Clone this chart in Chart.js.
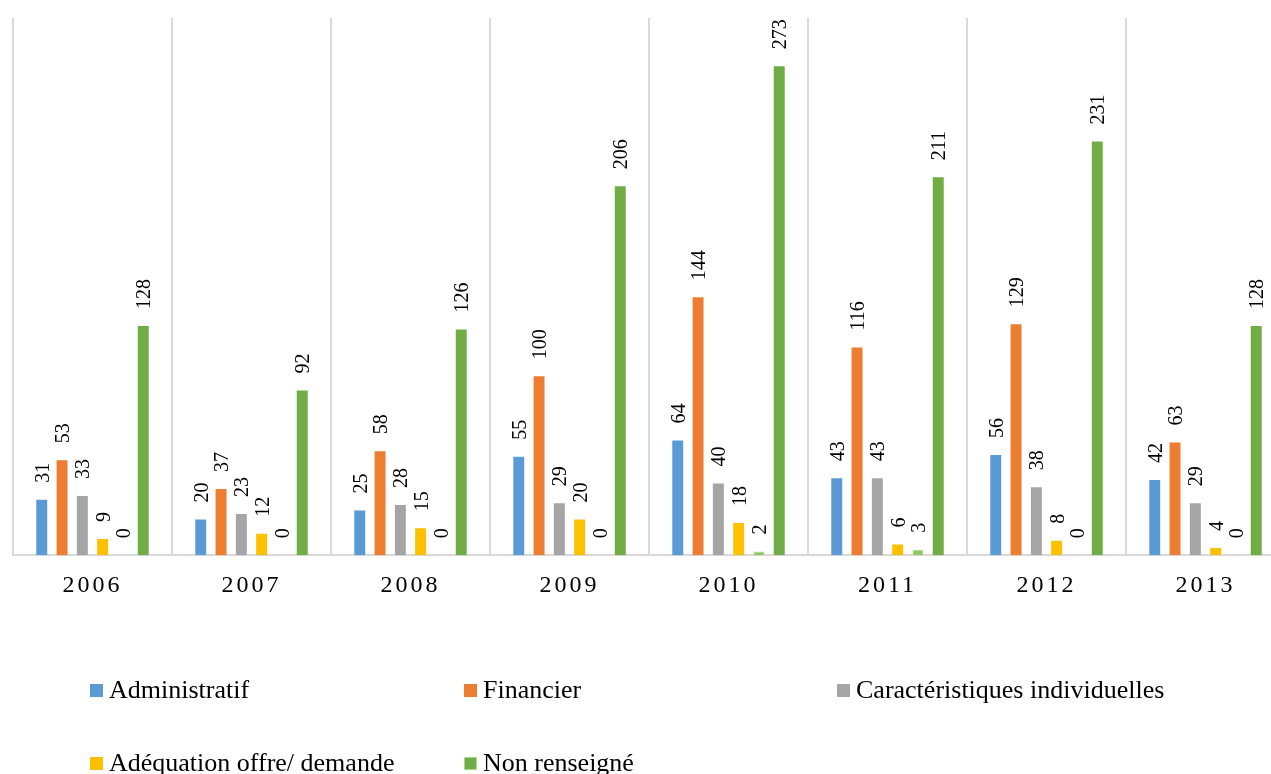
<!DOCTYPE html>
<html>
<head>
<meta charset="utf-8">
<script src="https://cdn.jsdelivr.net/npm/chart.js@4/dist/chart.umd.min.js"></script>
<style>
  body { margin: 0; overflow: hidden; background: #fff; width: 1271px; height: 774px; position: relative; }
  #wrap { position: absolute; left: 0; top: 0; width: 1300px; height: 774px; }
  .lgBox { position: absolute; width: 13px; height: 13px; box-sizing: border-box; }
  .lgText { position: absolute; font-family: "Liberation Serif", "Times New Roman", serif; font-size: 26px; line-height: 30px; color: #000; white-space: nowrap; }
</style>
</head>
<body>
<div id="wrap"><canvas id="myChart"></canvas></div>
<div id="legend"></div>
<script>
const years = ['2006', '2007', '2008', '2009', '2010', '2011', '2012', '2013'];
const administratif = [31, 20, 25, 55, 64, 43, 56, 42];
const financier = [53, 37, 58, 100, 144, 116, 129, 63];
const caracteristiques = [33, 23, 28, 29, 40, 43, 38, 29];
const adequation = [9, 12, 15, 20, 18, 6, 8, 4];
const autre = [0, 0, 0, 0, 2, 3, 0, 0];
const nonRenseigne = [128, 92, 126, 206, 273, 211, 231, 128];

const serif = '"Liberation Serif", "Times New Roman", serif';

function ds(label, data, color, border) {
    return {
        label: label,
        data: data,
        backgroundColor: color,
        borderColor: border || color,
        borderWidth: border ? 1 : 0,
        categoryPercentage: 0.766,
        barPercentage: 0.54
    };
}

// rotated value labels above each bar
const barLabels = {
    id: 'barLabels',
    afterDatasetsDraw(chart) {
        const ctx = chart.ctx;
        chart.data.datasets.forEach((d, i) => {
            const meta = chart.getDatasetMeta(i);
            meta.data.forEach((bar, j) => {
                ctx.save();
                ctx.letterSpacing = '0px';
                ctx.translate(bar.x, bar.y - 17);
                ctx.rotate(-Math.PI / 2);
                ctx.font = '20px ' + serif;
                ctx.fillStyle = '#000';
                ctx.textAlign = 'left';
                ctx.textBaseline = 'alphabetic';
                ctx.fillText(String(d.data[j]), 0, 7);
                ctx.restore();
            });
        });
    }
};

// the year labels are spaced out a little
const spacing = {
    id: 'spacing',
    beforeDraw(chart) { chart.ctx.letterSpacing = '3px'; },
    afterDraw(chart) { chart.ctx.letterSpacing = '0px'; }
};

let ctx = document.getElementById('myChart');
let chart = new Chart(ctx, {
    type: 'bar',
    data: {
        labels: years,
        datasets: [
            ds('Administratif', administratif, '#5B9BD5'),
            ds('Financier', financier, '#ED7D31'),
            ds('Caractéristiques individuelles', caracteristiques, '#A5A5A5'),
            ds('Adéquation offre/ demande', adequation, '#FFC000'),
            ds('', autre, '#8CC860', '#A9D98A'),
            ds('Non renseigné', nonRenseigne, '#70AD47')
        ]
    },
    options: {
        responsive: true,
        maintainAspectRatio: false,
        animation: false,
        layout: { padding: { left: 13, right: 15, top: 18, bottom: 158 } },
        plugins: { legend: { display: false }, tooltip: { enabled: false } },
        scales: {
            x: {
                grid: { display: true, color: '#D9D9D9', lineWidth: 2, drawTicks: false, offset: true },
                border: { display: true, color: '#D9D9D9', width: 2 },
                ticks: { color: '#000', padding: 16, font: { family: serif, size: 24 } }
            },
            y: {
                display: false,
                min: 0,
                max: 300
            }
        }
    },
    plugins: [spacing, barLabels]
});

// legend laid out like a grid, 3 columns
const legendItems = [
    ['Administratif', '#5B9BD5', null, 90, 690],
    ['Financier', '#ED7D31', null, 464, 690],
    ['Caractéristiques individuelles', '#A5A5A5', null, 837, 690],
    ['Adéquation offre/ demande', '#FFC000', null, 90, 763],
    ['Non renseigné', '#70AD47', '#A9D98A', 464, 763]
];
let legend = document.getElementById('legend');
legendItems.forEach(it => {
    let box = document.createElement('div');
    box.className = 'lgBox';
    box.style.left = it[3] + 'px';
    box.style.top = (it[4] - 6) + 'px';
    box.style.background = it[1];
    if (it[2]) box.style.border = '1px solid ' + it[2];
    legend.appendChild(box);
    let txt = document.createElement('div');
    txt.className = 'lgText';
    txt.style.left = (it[3] + 19) + 'px';
    txt.style.top = (it[4] - 15) + 'px';
    txt.textContent = it[0];
    legend.appendChild(txt);
});
</script>
</body>
</html>
